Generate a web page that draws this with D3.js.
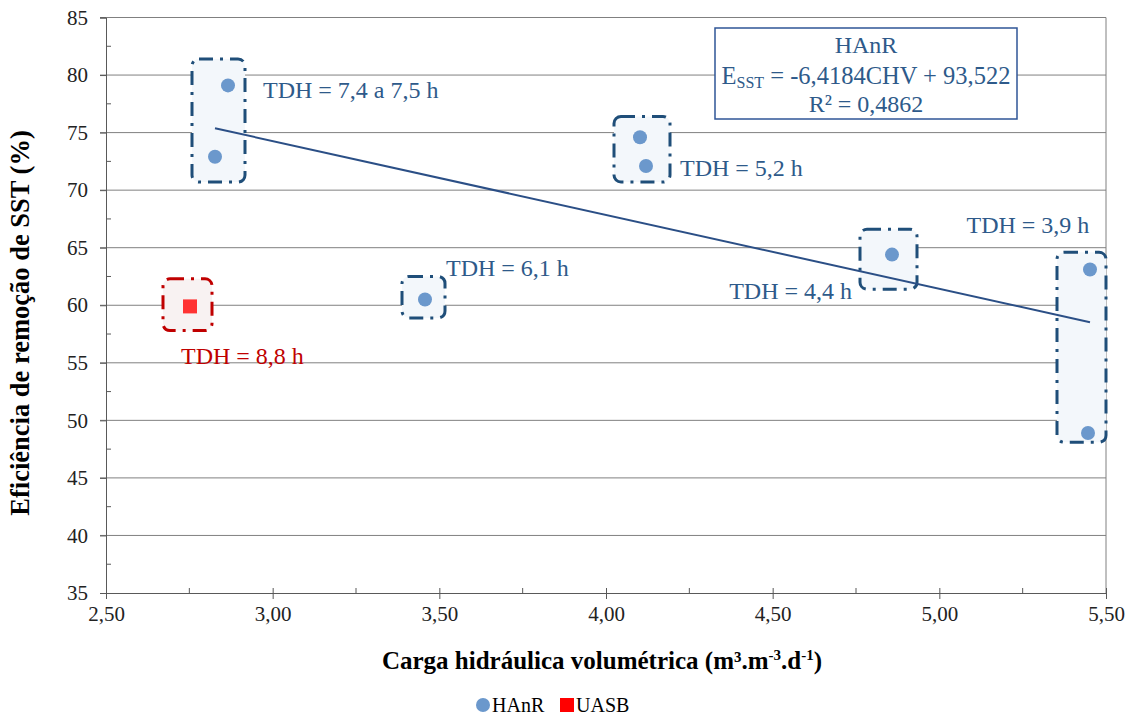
<!DOCTYPE html>
<html>
<head>
<meta charset="utf-8">
<script src="https://cdn.jsdelivr.net/npm/d3@7"></script>
<style>
  body { margin: 0; background: #fff; }
  svg text { font-family: "Liberation Serif", Tinos, "Times New Roman", Times, "DejaVu Serif", serif; }
</style>
</head>
<body>
<svg id="chart" width="1129" height="715"></svg>
<script>
// data
var hanrX = [2.866, 2.827, 3.457, 4.102, 4.120, 4.858, 5.452, 5.446];
var hanrY = [79.1, 72.9, 60.5, 74.6, 72.1, 64.4, 63.1, 48.9];
var uasbX = [2.752];
var uasbY = [59.9];
var trendSlope = -6.4184, trendIntercept = 93.522;
var trendRange = [2.827, 5.452];
var xTicks = [2.5, 3.0, 3.5, 4.0, 4.5, 5.0, 5.5];
var yTicks = [35, 40, 45, 50, 55, 60, 65, 70, 75, 80, 85];
// dashed group boxes, data units: [x0, x1, yTop, yBottom]
var boxes = [
  [2.758, 2.917, 81.4, 70.7],
  [4.024, 4.192, 76.4, 70.7],
  [3.388, 3.517, 62.5, 58.9],
  [4.762, 4.933, 66.6, 61.4],
  [5.353, 5.500, 64.6, 48.1]
];
var uasbBox = [2.671, 2.818, 62.3, 57.8];
// labels: text, x, baseline y (data units), anchor
var labels = [
  ["TDH = 7,4 a 7,5 h", 2.971, 78.0, "start"],
  ["TDH = 5,2 h", 4.222, 71.2, "start"],
  ["TDH = 6,1 h", 3.52, 62.55, "start"],
  ["TDH = 4,4 h", 4.738, 60.55, "end"],
  ["TDH = 3,9 h", 5.45, 66.3, "end"]
];
var uasbLabel = ["TDH = 8,8 h", 2.725, 54.9, "start"];

var blue = "#1f4e79", pointBlue = "#6b98cc", red = "#c00000", textBlue = "#2e5a8a";
var svg = d3.select("#chart");
var mLeft = 106, mRight = 1106, mTop = 17.5, mBottom = 593;

var x = d3.scaleLinear().domain([2.5, 5.5]).range([mLeft, mRight]);
var y = d3.scaleLinear().domain([35, 85]).range([mBottom, mTop]);
var fmt = function(d){ return d3.format(".2f")(d).replace(".", ","); };

// gridlines
svg.append("g").selectAll("line").data(yTicks.slice(1)).enter().append("line")
  .attr("x1", mLeft - 6).attr("x2", mRight)
  .attr("y1", function(d){ return y(d); }).attr("y2", function(d){ return y(d); })
  .attr("stroke", "#808080").attr("stroke-width", 1);
svg.append("line").attr("x1", mRight).attr("x2", mRight).attr("y1", mTop).attr("y2", mBottom)
  .attr("stroke", "#808080");

// axes
var yAxis = d3.axisLeft(y).tickValues(yTicks).tickSize(6).tickPadding(12);
var gy = svg.append("g").attr("transform", "translate(" + mLeft + ",0)").call(yAxis);
var xAxis = d3.axisBottom(x).tickValues(xTicks).tickFormat(fmt).tickSize(6).tickPadding(7);
var gx = svg.append("g").attr("transform", "translate(0," + mBottom + ")").call(xAxis);
[gx, gy].forEach(function(g){
  g.attr("font-family", null).attr("font-size", null);
  g.select(".domain").attr("stroke", "#595959");
  g.selectAll(".tick line").attr("stroke", "#595959");
  g.selectAll("text").attr("font-size", 21).attr("fill", "#222");
});
gx.selectAll(".tick line").attr("y1", -5);
// minor ticks
svg.append("g").selectAll("line").data(d3.range(37.5, 85, 5)).enter().append("line")
  .attr("x1", mLeft).attr("x2", mLeft + 5)
  .attr("y1", function(d){ return y(d); }).attr("y2", function(d){ return y(d); })
  .attr("stroke", "#595959");
svg.append("g").selectAll("line").data(d3.range(2.75, 5.5, 0.5)).enter().append("line")
  .attr("x1", function(d){ return x(d); }).attr("x2", function(d){ return x(d); })
  .attr("y1", mBottom).attr("y2", mBottom - 5)
  .attr("stroke", "#595959");

// group boxes
function drawBox(b, stroke, fill) {
  svg.append("rect")
    .attr("x", x(b[0])).attr("y", y(b[2]))
    .attr("width", x(b[1]) - x(b[0])).attr("height", y(b[3]) - y(b[2]))
    .attr("rx", 7).attr("ry", 7)
    .attr("fill", fill).attr("stroke", stroke).attr("stroke-width", 3)
    .attr("stroke-dasharray", "14,7,3,7");
}
boxes.forEach(function(b){ drawBox(b, blue, "#f3f7fb"); });
drawBox(uasbBox, red, "#f8f2f2");

// trend line
svg.append("line")
  .attr("x1", x(trendRange[0])).attr("y1", y(trendSlope * trendRange[0] + trendIntercept))
  .attr("x2", x(trendRange[1])).attr("y2", y(trendSlope * trendRange[1] + trendIntercept))
  .attr("stroke", "#2b4f86").attr("stroke-width", 2);

// points
svg.append("g").selectAll("circle").data(hanrX).enter().append("circle")
  .attr("cx", function(d){ return x(d); })
  .attr("cy", function(d, i){ return y(hanrY[i]); })
  .attr("r", 7).attr("fill", pointBlue);
svg.append("g").selectAll("rect").data(uasbX).enter().append("rect")
  .attr("x", function(d){ return x(d) - 7; })
  .attr("y", function(d, i){ return y(uasbY[i]) - 7; })
  .attr("width", 14).attr("height", 14).attr("fill", "#ff3333");

// labels
labels.forEach(function(l){
  svg.append("text").attr("x", x(l[1])).attr("y", y(l[2]))
    .attr("text-anchor", l[3]).attr("font-size", 24).attr("fill", textBlue).text(l[0]);
});
svg.append("text").attr("x", x(uasbLabel[1])).attr("y", y(uasbLabel[2]))
  .attr("text-anchor", uasbLabel[3]).attr("font-size", 24).attr("fill", red).text(uasbLabel[0]);

// equation box
var eq = svg.append("g").attr("transform", "translate(866,0)");
eq.append("rect").attr("x", -151).attr("y", 28).attr("width", 302).attr("height", 91)
  .attr("fill", "#fff").attr("stroke", "#2f5597").attr("stroke-width", 1.5);
eq.append("text").attr("y", 53).attr("text-anchor", "middle").attr("font-size", 24)
  .attr("fill", textBlue).text("HAnR");
var t2 = eq.append("text").attr("y", 84).attr("text-anchor", "middle").attr("font-size", 24.5)
  .attr("fill", textBlue);
t2.append("tspan").text("E");
t2.append("tspan").attr("font-size", 16).attr("dy", 4).text("SST");
t2.append("tspan").attr("dy", -4).text(" = -6,4184CHV + 93,522");
eq.append("text").attr("y", 112).attr("text-anchor", "middle").attr("font-size", 24)
  .attr("fill", textBlue).text("R² = 0,4862");

// axis titles
svg.append("text").attr("transform", "translate(29,323) rotate(-90)")
  .attr("text-anchor", "middle").attr("font-size", 26.5).attr("font-weight", "bold")
  .text("Eficiência de remoção de SST (%)");
var xt = svg.append("text").attr("x", 602).attr("y", 669).attr("text-anchor", "middle")
  .attr("font-size", 25).attr("font-weight", "bold");
xt.append("tspan").text("Carga hidráulica volumétrica (m³.m");
xt.append("tspan").attr("font-size", 15).attr("dy", -9).text("-3");
xt.append("tspan").attr("dy", 9).text(".d");
xt.append("tspan").attr("font-size", 15).attr("dy", -9).text("-1");
xt.append("tspan").attr("dy", 9).text(")");

// legend
var lg = svg.append("g").attr("transform", "translate(0,705)");
lg.append("circle").attr("cx", 483).attr("cy", 0).attr("r", 7).attr("fill", pointBlue);
lg.append("text").attr("x", 492).attr("y", 7).attr("font-size", 20).text("HAnR");
lg.append("rect").attr("x", 560).attr("y", -7).attr("width", 14).attr("height", 14).attr("fill", "#ff0000");
lg.append("text").attr("x", 576).attr("y", 7).attr("font-size", 20).text("UASB");
</script>
</body>
</html>
